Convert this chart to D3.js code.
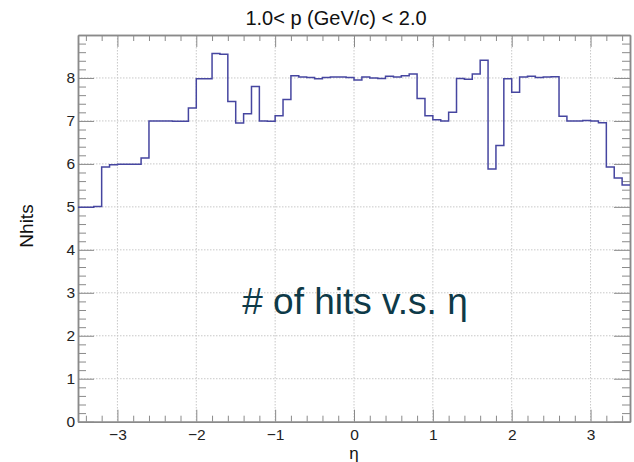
<!DOCTYPE html>
<html><head><meta charset="utf-8">
<script src="https://cdn.jsdelivr.net/npm/d3@7"></script>
<style>body{margin:0;background:#fff;}svg{display:block;font-family:"Liberation Sans",Arial,sans-serif;}</style>
</head><body>
<svg id="c" width="634" height="462"></svg>
<script>
// Histogram: 70 bins of width 0.1 from eta=-3.5 to 3.5
const binLow = -3.5, binWidth = 0.1;
const nhits = [
  4.99, 4.99, 5.01, 5.93, 5.98, 5.99, 5.99, 5.99, 6.14, 7.00,
  7.00, 7.00, 6.99, 6.99, 7.30, 7.98, 7.98, 8.57, 8.55, 7.45,
  6.95, 7.17, 7.80, 7.00, 6.99, 7.12, 7.50, 8.05, 8.02, 8.01,
  7.98, 8.01, 8.02, 8.02, 8.01, 7.95, 8.02, 8.00, 7.99, 8.04,
  8.02, 8.05, 8.09, 7.52, 7.12, 7.03, 7.00, 7.20, 7.99, 7.97,
  8.09, 8.41, 5.88, 6.43, 7.98, 7.67, 8.02, 8.04, 8.01, 8.02,
  8.03, 7.11, 7.00, 7.00, 7.01, 7.00, 6.96, 5.93, 5.67, 5.51
];
const xTicks = [-3, -2, -1, 0, 1, 2, 3];
const yTicks = [0, 1, 2, 3, 4, 5, 6, 7, 8];
const titleText = "1.0< p (GeV/c) < 2.0";
const xLabel = "η", yLabel = "Nhits";
const noteText = "# of hits v.s. η";

const L = 78, R = 630, T = 35, B = 421.7;
const svg = d3.select("#c");
const x = d3.scaleLinear().domain([-3.5, 3.5]).range([L, R]);
const y = d3.scaleLinear().domain([0, 9]).range([B, T]);
const axisCol = "#8a8a8a";
const FONT = "'Liberation Sans', Arial, sans-serif";

// grid
const g = svg.append("g");
g.selectAll(".gx").data(xTicks).join("line")
  .attr("x1", d => x(d)).attr("x2", d => x(d)).attr("y1", T).attr("y2", B)
  .attr("stroke", "#c8c8c8").attr("stroke-width", 1).attr("stroke-dasharray", "1.5,1.5");
g.selectAll(".gy").data(yTicks.filter(d => d > 0)).join("line")
  .attr("y1", d => y(d)).attr("y2", d => y(d)).attr("x1", L).attr("x2", R)
  .attr("stroke", "#c8c8c8").attr("stroke-width", 1).attr("stroke-dasharray", "1.5,1.5");

// minor tick values
const xMinor = d3.range(-3.4, 3.5001, 0.2).map(v => +v.toFixed(2)).filter(v => Math.abs(v - Math.round(v)) > 1e-6);
const yMinor = d3.range(0.2, 9.0001, 0.2).map(v => +v.toFixed(2)).filter(v => Math.abs(v - Math.round(v)) > 1e-6);

// axes via d3 axis generators (ticks inward)
const axB = d3.axisBottom(x).tickValues(xTicks).tickFormat(d => d < 0 ? "\u2212" + Math.abs(d) : d).tickSizeInner(-12).tickSizeOuter(0).tickPadding(7);
const axBm = d3.axisBottom(x).tickValues(xMinor).tickFormat("").tickSizeInner(-6).tickSizeOuter(0);
const axT = d3.axisTop(x).tickValues(xTicks).tickFormat("").tickSizeInner(-12).tickSizeOuter(0);
const axTm = d3.axisTop(x).tickValues(xMinor).tickFormat("").tickSizeInner(-6).tickSizeOuter(0);
const axLf = d3.axisLeft(y).tickValues(yTicks).tickSizeInner(-16).tickSizeOuter(0).tickPadding(3);
const axLm = d3.axisLeft(y).tickValues(yMinor).tickFormat("").tickSizeInner(-8).tickSizeOuter(0);
const axRt = d3.axisRight(y).tickValues(yTicks).tickFormat("").tickSizeInner(-16).tickSizeOuter(0);
const axRm = d3.axisRight(y).tickValues(yMinor).tickFormat("").tickSizeInner(-8).tickSizeOuter(0);

function style(sel){
  sel.selectAll("path").attr("stroke", axisCol).attr("stroke-width", 1.5);
  sel.selectAll("line").attr("stroke", axisCol).attr("stroke-width", 1);
  sel.selectAll("text").attr("fill", "#222").attr("font-size", 15.5).attr("font-family", FONT);
}
style(svg.append("g").attr("transform", `translate(0,${B})`).call(axB));
style(svg.append("g").attr("transform", `translate(0,${B})`).call(axBm));
style(svg.append("g").attr("transform", `translate(0,${T})`).call(axT));
style(svg.append("g").attr("transform", `translate(0,${T})`).call(axTm));
style(svg.append("g").attr("transform", `translate(${L},0)`).call(axLf));
style(svg.append("g").attr("transform", `translate(${L},0)`).call(axLm));
style(svg.append("g").attr("transform", `translate(${R},0)`).call(axRt));
style(svg.append("g").attr("transform", `translate(${R},0)`).call(axRm));

// histogram step line
const pts = [];
nhits.forEach((v, i) => {
  const x0 = binLow + i * binWidth, x1 = x0 + binWidth;
  pts.push([x0, v], [x1, v]);
});
const line = d3.line().x(d => x(d[0])).y(d => y(d[1]));
svg.append("path").datum(pts).attr("d", line)
  .attr("fill", "none").attr("stroke", "#4646a0").attr("stroke-width", 1.5);

// texts
svg.append("text").attr("x", 336).attr("y", 25).attr("text-anchor", "middle")
  .attr("font-size", 20).attr("fill", "#111").attr("font-family", FONT).text(titleText);
svg.append("text").attr("x", 354).attr("y", 459).attr("text-anchor", "middle")
  .attr("font-size", 17).attr("fill", "#111").attr("font-family", FONT).text(xLabel);
svg.append("text").attr("transform", "translate(33,226) rotate(-90)").attr("text-anchor", "middle")
  .attr("font-size", 19).attr("fill", "#111").attr("font-family", FONT).text(yLabel);
svg.append("text").attr("x", 355).attr("y", 314).attr("text-anchor", "middle")
  .attr("font-size", 37).attr("fill", "#0e3a48").attr("font-family", FONT).text(noteText);
</script>
</body></html>
